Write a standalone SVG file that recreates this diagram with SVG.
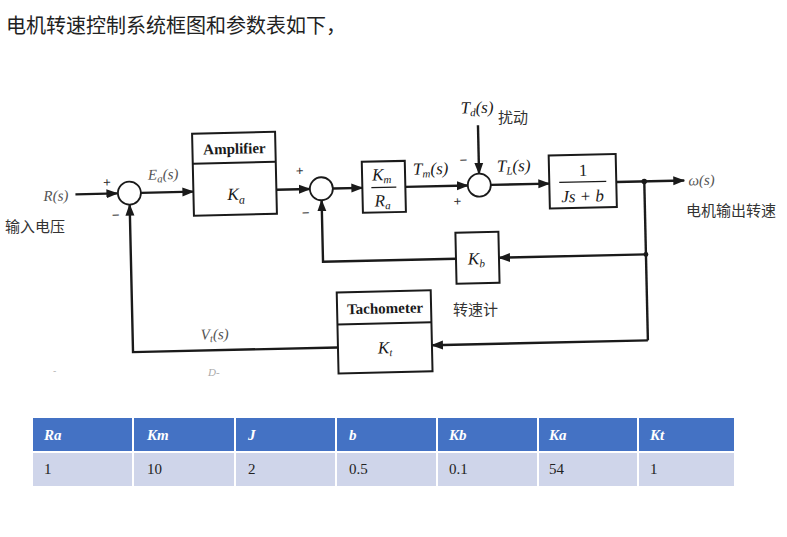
<svg xmlns="http://www.w3.org/2000/svg" width="787" height="537" viewBox="0 0 787 537">
<defs>
<marker id="ah" markerWidth="12" markerHeight="10" refX="11" refY="5" orient="auto" markerUnits="userSpaceOnUse">
<path d="M0,0.5 L12,5 L0,9.5 Z" fill="#1a1a1a"/>
</marker>
<style>
.ln{fill:none;stroke:#1a1a1a;stroke-width:2.4}
.bx{fill:#fff;stroke:#1a1a1a;stroke-width:2}
.sj{fill:#fff;stroke:#1a1a1a;stroke-width:1.8}
.it{font-family:"Liberation Serif",serif;font-style:italic;font-size:17px;fill:#1a1a1a}
.up{font-family:"Liberation Serif",serif;font-size:17px;fill:#1a1a1a}
.lb{font-family:"Liberation Serif",serif;font-style:italic;font-size:15px;fill:#555}
.sg{font-family:"Liberation Sans",sans-serif;font-size:13px;fill:#333}
.hd{font-family:"Liberation Serif",serif;font-weight:bold;font-size:15px;fill:#1a1a1a}
.cn{font-family:"Noto Sans CJK SC",sans-serif;font-size:15px;fill:#333}
.th{font-family:"Liberation Serif",serif;font-weight:bold;font-style:italic;font-size:15px;fill:#fff}
.td{font-family:"Liberation Serif",serif;font-size:15px;fill:#222}
</style>
</defs>
<rect width="787" height="537" fill="#fff"/>
<text x="6" y="33" font-family="'Noto Sans CJK SC',sans-serif" font-size="20" fill="#222">电机转速控制系统框图和参数表如下，</text>

<g transform="rotate(-1.3 400 260)">
<g id="connectors">
<path class="ln" d="M77,187 H119" marker-end="url(#ah)"/>
<path class="ln" d="M142.5,187 H195" marker-end="url(#ah)"/>
<path class="ln" d="M278,187 H311.5" marker-end="url(#ah)"/>
<path class="ln" d="M334.5,187 H364" marker-end="url(#ah)"/>
<path class="ln" d="M407,187 H469.5" marker-end="url(#ah)"/>
<path class="ln" d="M481,127 V175.5" marker-end="url(#ah)"/>
<path class="ln" d="M492.5,187 H551" marker-end="url(#ah)"/>
<path class="ln" d="M618,187 H686" marker-end="url(#ah)"/>
<path class="ln" d="M646,187 V346"/>
<path class="ln" d="M646,260 H499" marker-end="url(#ah)"/>
<path class="ln" d="M456,260 H323 V198.5" marker-end="url(#ah)"/>
<path class="ln" d="M646,346 H430" marker-end="url(#ah)"/>
<path class="ln" d="M336,346 H131 V198.5" marker-end="url(#ah)"/>
<circle cx="646" cy="187" r="2.8" fill="#1a1a1a"/>
<circle cx="646" cy="260" r="2.4" fill="#1a1a1a"/>
</g>

<g id="input">
<text class="lb" x="45" y="193">R(s)</text>
</g>

<g id="sum1">
<circle class="sj" cx="131" cy="187" r="11.5"/>
<text class="sg" x="105" y="180">+</text>
<text class="sg" x="113" y="213">−</text>
</g>
<text class="lb" x="150" y="174">E<tspan font-size="11" dy="3">a</tspan><tspan dy="-3">(s)</tspan></text>

<g id="amplifier">
<rect class="bx" x="195" y="129" width="83" height="82"/>
<line x1="195" y1="159" x2="278" y2="159" stroke="#1a1a1a" stroke-width="2"/>
<text class="hd" x="237" y="150" text-anchor="middle">Amplifier</text>
<text class="it" x="229" y="196">K<tspan font-size="12" dy="4">a</tspan></text>
</g>

<g id="sum2">
<circle class="sj" cx="323" cy="187" r="11.5"/>
<text class="sg" x="298" y="173">+</text>
<text class="sg" x="303" y="215">−</text>
</g>

<g id="kmra">
<rect class="bx" x="364" y="161" width="43" height="51"/>
<line x1="373" y1="187" x2="398" y2="187" stroke="#1a1a1a" stroke-width="1.2"/>
<text class="it" x="374" y="180">K<tspan font-size="11" dy="3">m</tspan></text>
<text class="it" x="376" y="206">R<tspan font-size="11" dy="3">a</tspan></text>
</g>
<text class="it" x="415" y="175">T<tspan font-size="11" dy="3">m</tspan><tspan dy="-3">(s)</tspan></text>

<g id="sum3">
<circle class="sj" cx="481" cy="187" r="11.5"/>
<text class="sg" x="462" y="166">−</text>
<text class="sg" x="455" y="207">+</text>
</g>
<text class="it" x="464" y="115">T<tspan font-size="11" dy="3">d</tspan><tspan dy="-3">(s)</tspan></text>
<text class="it" x="499" y="174">T<tspan font-size="11" dy="3">L</tspan><tspan dy="-3">(s)</tspan></text>

<g id="plant">
<rect class="bx" x="551" y="159" width="67" height="53"/>
<line x1="561" y1="186" x2="608" y2="186" stroke="#1a1a1a" stroke-width="1.2"/>
<text class="up" x="585" y="180" text-anchor="middle">1</text>
<text class="it" x="584" y="206" text-anchor="middle">Js + b</text>
</g>

<g id="output">
<text class="lb" x="690" y="192">ω(s)</text>
</g>

<g id="kb">
<rect class="bx" x="456" y="234" width="43" height="51"/>
<text class="it" x="468" y="266">K<tspan font-size="11" dy="3">b</tspan></text>
</g>

<g id="tachometer">
<rect x="336" y="291" width="94" height="32" fill="#e6e6e6"/>
<rect class="bx" x="336" y="291" width="94" height="81" fill="none"/>
<line x1="336" y1="323" x2="430" y2="323" stroke="#1a1a1a" stroke-width="2"/>
<text class="hd" x="384" y="313" text-anchor="middle">Tachometer</text>
<text class="it" x="376" y="353">K<tspan font-size="11" dy="3">t</tspan></text>
</g>
<text class="lb" x="199" y="335">V<tspan font-size="11" dy="3">t</tspan><tspan dy="-3">(s)</tspan></text>
</g>

<g id="notes">
<text class="cn" x="5" y="232" font-size="16">输入电压</text>
<text class="cn" x="498" y="123">扰动</text>
<text class="cn" x="686" y="216">电机输出转速</text>
<text class="cn" x="453" y="315">转速计</text>
<text x="208" y="376" font-family="'Liberation Serif',serif" font-style="italic" font-size="11" fill="#aaa">D-</text>
<text x="53" y="374" font-family="'Liberation Sans',sans-serif" font-size="10" fill="#bbb">-</text>
</g>

<g id="table">
<g fill="#4472C4">
<rect x="33" y="418" width="99" height="33"/>
<rect x="134" y="418" width="100" height="33"/>
<rect x="236" y="418" width="99" height="33"/>
<rect x="337" y="418" width="99" height="33"/>
<rect x="438" y="418" width="99" height="33"/>
<rect x="539" y="418" width="98" height="33"/>
<rect x="639" y="418" width="95" height="33"/>
</g>
<g fill="#CFD5EA">
<rect x="33" y="453" width="99" height="33"/>
<rect x="134" y="453" width="100" height="33"/>
<rect x="236" y="453" width="99" height="33"/>
<rect x="337" y="453" width="99" height="33"/>
<rect x="438" y="453" width="99" height="33"/>
<rect x="539" y="453" width="98" height="33"/>
<rect x="639" y="453" width="95" height="33"/>
</g>
<text class="th" x="44" y="440">Ra</text>
<text class="th" x="147" y="440">Km</text>
<text class="th" x="248" y="440">J</text>
<text class="th" x="349" y="440">b</text>
<text class="th" x="449" y="440">Kb</text>
<text class="th" x="549" y="440">Ka</text>
<text class="th" x="650" y="440">Kt</text>
<text class="td" x="44" y="474">1</text>
<text class="td" x="147" y="474">10</text>
<text class="td" x="248" y="474">2</text>
<text class="td" x="349" y="474">0.5</text>
<text class="td" x="449" y="474">0.1</text>
<text class="td" x="549" y="474">54</text>
<text class="td" x="650" y="474">1</text>
</g>
</svg>
